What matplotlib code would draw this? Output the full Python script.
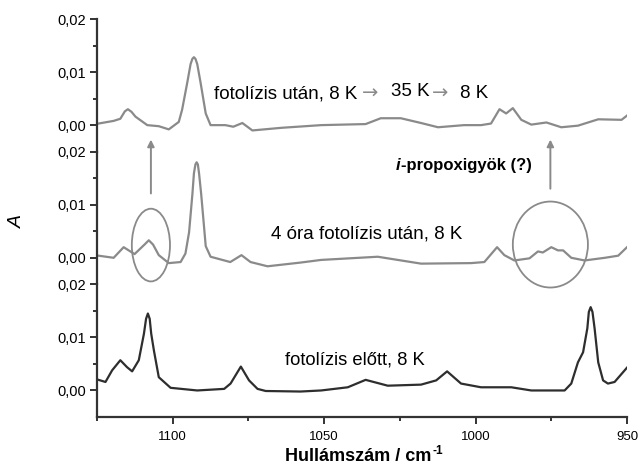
import matplotlib
matplotlib.use("Agg")
import matplotlib.pyplot as plt
from matplotlib.patches import Ellipse

plt.rcParams['font.family'] = ['Liberation Sans', 'DejaVu Sans']

# spectrum after photolysis, 8 K -> 35 K -> 8 K
wn_top = [1124.5, 1119.5, 1117.3, 1115.8, 1114.8, 1113.6, 1112.3, 1108.4, 1104.6, 1101.3, 1098.0, 1096.9,
          1095.2, 1094.1, 1093.5, 1093.0, 1092.5, 1091.9, 1090.8, 1089.1, 1087.5, 1082.6, 1080.0, 1077.0,
          1073.7, 1064.0, 1051.0, 1036.3, 1031.3, 1024.7, 1018.0, 1012.4, 1003.8, 998.2,
          994.9, 992.1, 989.9, 987.7, 984.9, 981.6, 976.6, 971.7, 966.2, 959.5, 951.8, 950.0]
a_top = [0.0003, 0.0008, 0.0012, 0.0026, 0.0030, 0.0025, 0.0016, 0.0000, -0.0002, -0.0008, 0.0006, 0.0029,
         0.0080, 0.0115, 0.0125, 0.0128, 0.0125, 0.0115, 0.0080, 0.0022, 0.0000, 0.0000, -0.0003, 0.0004,
         -0.0010, -0.0005, 0.0000, 0.0002, 0.0013, 0.0013, 0.0004, -0.0004, 0.0000, 0.0000,
         0.0003, 0.0030, 0.0022, 0.0032, 0.0010, 0.0001, 0.0005, -0.0004, -0.0001, 0.0011, 0.0010, 0.0018]

# 4 h photolysis, 8 K
wn_mid = [1124.5, 1119.5, 1116.2, 1112.6, 1109.3, 1107.9, 1106.5, 1104.6, 1101.3, 1097.4, 1095.8, 1094.6,
          1093.5, 1093.0, 1092.5, 1092.1, 1091.7, 1091.3, 1090.6, 1089.1, 1087.5, 1081.0, 1077.3, 1074.3,
          1068.7, 1057.8, 1051.0, 1032.3, 1018.0, 1001.5, 997.1, 992.9, 990.5, 987.2,
          982.2, 979.4, 977.8, 975.0, 972.8, 971.1, 968.4, 964.0, 957.3, 952.9, 950.0]
a_mid = [0.0004, 0.0000, 0.0020, 0.0007, 0.0025, 0.0033, 0.0025, 0.0005, -0.0010, -0.0008, 0.0008, 0.0048,
         0.0120, 0.0159, 0.0176, 0.0180, 0.0176, 0.0159, 0.0120, 0.0022, 0.0002, -0.0008, 0.0005, -0.0008,
         -0.0016, -0.0009, -0.0004, 0.0002, -0.0011, -0.0010, -0.0008, 0.0020, 0.0005, -0.0005,
         -0.0001, 0.0012, 0.0010, 0.0020, 0.0014, 0.0014, 0.0000, -0.0005, 0.0000, 0.0004, 0.0020]

# before photolysis, 8 K
wn_bot = [1124.5, 1122.2, 1120.0, 1117.3, 1115.1, 1113.4, 1111.2, 1109.5, 1108.8, 1108.2, 1107.6, 1107.1,
          1106.2, 1104.6, 1100.7, 1091.9, 1083.0, 1080.9, 1077.5, 1074.8, 1072.0, 1069.3,
          1057.8, 1051.0, 1042.2, 1036.3, 1029.0, 1018.0, 1013.0, 1009.4, 1004.8, 998.2,
          988.2, 981.6, 970.6, 968.4, 966.2, 964.5, 963.1, 962.6, 962.0, 961.4, 960.7, 959.5,
          957.9, 956.3, 954.1, 950.0]
a_bot = [0.0020, 0.0016, 0.0038, 0.0057, 0.0044, 0.0036, 0.0057, 0.0107, 0.0135, 0.0145, 0.0135, 0.0107,
         0.0075, 0.0025, 0.0005, 0.0000, 0.0003, 0.0013, 0.0045, 0.0019, 0.0003, -0.0001,
         -0.0002, 0.0000, 0.0006, 0.0020, 0.0009, 0.0011, 0.0019, 0.0036, 0.0013, 0.0006,
         0.0006, 0.0000, 0.0000, 0.0013, 0.0053, 0.0072, 0.0117, 0.0148, 0.0157, 0.0148, 0.0117, 0.0053,
         0.0019, 0.0013, 0.0016, 0.0043]

ytick_vals = [0.0, 0.01, 0.02]
ytick_labels = ['0,00', '0,01', '0,02']
xtick_vals = [1100, 1050, 1000, 950]

grey = '#8a8a8a'
dark = '#2e2e2e'
axcol = '#333333'

fig = plt.figure(figsize=(6.39, 4.68), dpi=100)
W, H = 639, 468
left, right, top, bottom = 97, 627, 19, 417
ph = (bottom - top) / 3

axes = []
for i in range(3):
    y0 = bottom - (3 - i) * ph
    ax = fig.add_axes([left / W, 1 - (y0 + ph) / H, (right - left) / W, ph / H])
    axes.append(ax)
ax_top, ax_mid, ax_bot = axes

series = [(ax_top, wn_top, a_top, grey), (ax_mid, wn_mid, a_mid, grey), (ax_bot, wn_bot, a_bot, dark)]
for ax, x, y, c in series:
    ax.plot(x, y, color=c, lw=1.6)
    ax.set_xlim(1125, 950)
    ax.set_ylim(-0.005, 0.02)
    ax.set_yticks(ytick_vals)
    ax.set_yticklabels(ytick_labels)
    ax.set_yticks([0.005, 0.015], minor=True)
    ax.patch.set_alpha(0)
    for s in ['top', 'right']:
        ax.spines[s].set_visible(False)
    ax.spines['left'].set_linewidth(1.6)
    ax.spines['left'].set_color(axcol)
    ax.spines['bottom'].set_linewidth(1.6)
    ax.spines['bottom'].set_color(axcol)
    ax.tick_params(axis='y', which='major', length=5, width=1.4, color=axcol, labelsize=10.5, pad=3)
    ax.tick_params(axis='y', which='minor', length=3, width=1.4, color=axcol)
    ax.tick_params(axis='x', which='major', length=5, width=1.4, color=axcol, labelsize=9.5, pad=5)
    ax.tick_params(axis='x', which='minor', length=3, width=1.4, color=axcol)

for ax in (ax_top, ax_mid):
    ax.spines['bottom'].set_visible(False)
    ax.tick_params(axis='x', which='both', bottom=False, labelbottom=False)

ax_bot.set_xticks(xtick_vals)
ax_bot.set_xticks([1125, 1075, 1025, 975], minor=True)


def ftxt(x, y, s, **kw):
    kw.setdefault('va', 'center')
    kw.setdefault('ha', 'left')
    return fig.text(x / W, 1 - y / H, s, **kw)


# axis titles
xl = ftxt(285, 461, 'Hullámszám / cm', fontsize=13, fontweight='bold', va='baseline')
ftxt(17, 222, 'A', fontsize=14, style='italic', rotation=90, ha='center')

# labels on the spectra
ftxt(214, 94, 'fotolízis után, 8 K', fontsize=13.5)
ftxt(362, 93, '→', fontsize=14, color=grey, family='DejaVu Sans')
ftxt(391, 91, '35 K', fontsize=13.5)
ftxt(432, 93, '→', fontsize=14, color=grey, family='DejaVu Sans')
ftxt(460, 94, '8 K', fontsize=13.5)
ftxt(271, 234, '4 óra fotolízis után, 8 K', fontsize=13.5)
ftxt(285, 360, 'fotolízis előtt, 8 K', fontsize=13.2)
ftxt(396, 165, 'i', fontsize=12, fontweight='bold', style='italic')
ftxt(401, 165, '-propoxigyök (?)', fontsize=12, fontweight='bold')

# circles and arrows in the middle panel
ax_mid.add_patch(Ellipse((1107.2, 0.0024), 12.6, 0.0137, fill=False, ec=grey, lw=1.3, clip_on=False))
ax_mid.add_patch(Ellipse((975.3, 0.0025), 24.8, 0.0162, fill=False, ec=grey, lw=1.3, clip_on=False))
for xa, y_from in [(1107.2, 0.0116), (975.3, 0.0125)]:
    ax_mid.annotate('', xy=(xa, 0.0228), xytext=(xa, y_from), annotation_clip=False,
                    arrowprops=dict(arrowstyle='-|>', color=grey, lw=1.4, mutation_scale=10))

# superscript of the unit, placed right after the x label
fig.canvas.draw()
bb = xl.get_window_extent()
ftxt((bb.x1 + 1), 461 - 7, '-1', fontsize=8.5, fontweight='bold', va='baseline')

fig.savefig('out.png', dpi=100)
